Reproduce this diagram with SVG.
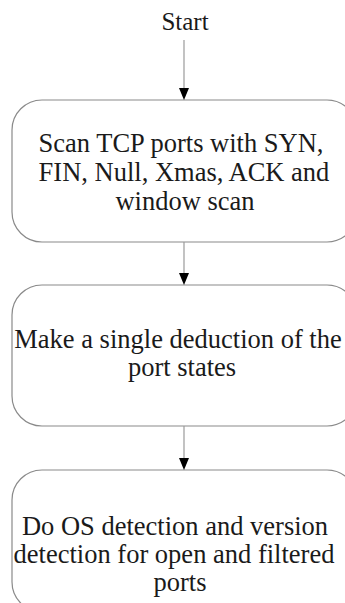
<svg xmlns="http://www.w3.org/2000/svg" width="345" height="603" viewBox="0 0 345 603">
<style>
.box{fill:#ffffff;stroke:#8a8a8a;stroke-width:1.2}
.t{font-family:"Liberation Serif","Times New Roman",serif;font-size:26.5px;fill:#1a1a1a;text-anchor:middle}
.edge{stroke:#9a9a9a;stroke-width:1.2;fill:none}
.head{fill:#000000}
</style>
<rect width="345" height="603" fill="#ffffff"/>
<g id="start">
<text class="t" x="185" y="30" style="font-size:25px">Start</text>
</g>
<g id="node1">
<rect class="box" x="12" y="100" width="345" height="142" rx="30" ry="30"/>
<text class="t" x="181" y="152">Scan TCP ports with SYN,</text>
<text class="t" x="184" y="181">FIN, Null, Xmas, ACK and</text>
<text class="t" x="185" y="210">window scan</text>
</g>
<g id="node2">
<rect class="box" x="12" y="285" width="345" height="141" rx="30" ry="30"/>
<text class="t" x="178" y="348">Make a single deduction of the</text>
<text class="t" x="182" y="376">port states</text>
</g>
<g id="node3">
<rect class="box" x="12" y="470" width="345" height="142" rx="30" ry="30"/>
<text class="t" x="175" y="535">Do OS detection and version</text>
<text class="t" x="174" y="563">detection for open and filtered</text>
<text class="t" x="180" y="591">ports</text>
</g>
<g id="connectors">
<line class="edge" x1="184" y1="40" x2="184" y2="89"/>
<polygon class="head" points="179,88 189,88 184,100"/>
<line class="edge" x1="184" y1="242" x2="184" y2="274"/>
<polygon class="head" points="179,273 189,273 184,285"/>
<line class="edge" x1="184" y1="426" x2="184" y2="459"/>
<polygon class="head" points="179,458 189,458 184,470"/>
</g>
</svg>
